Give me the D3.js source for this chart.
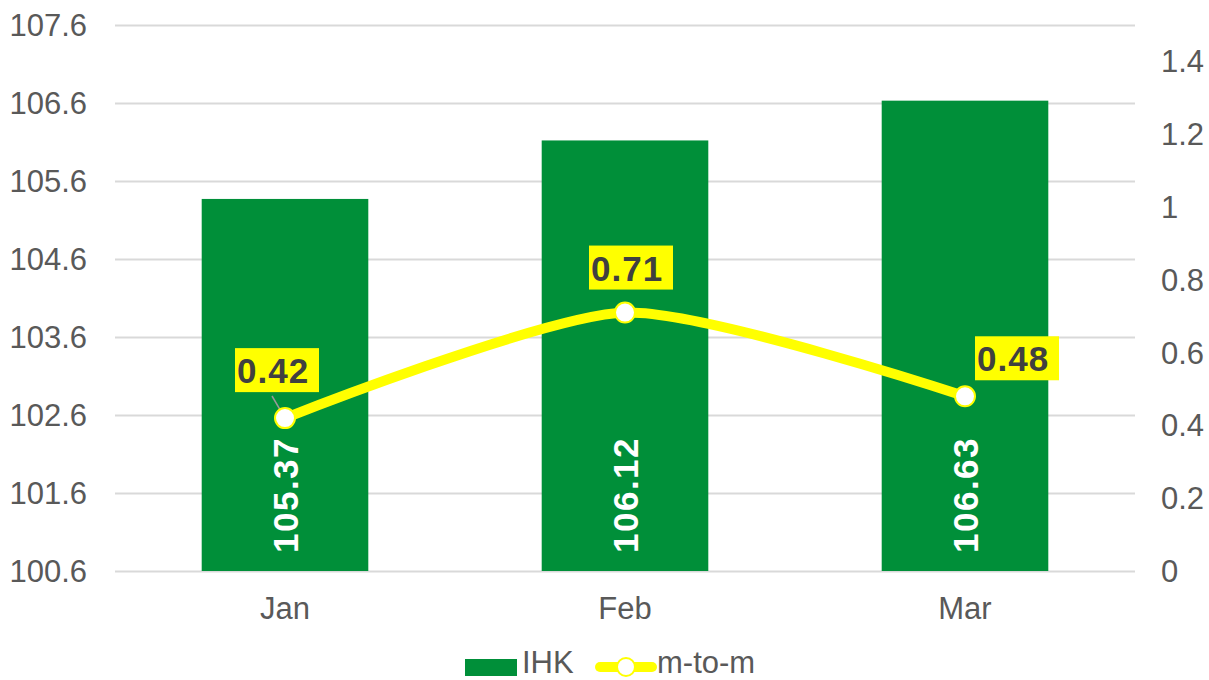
<!DOCTYPE html>
<html>
<head>
<script src="https://cdnjs.cloudflare.com/ajax/libs/d3/7.8.5/d3.min.js"></script>
<style>
  body { margin: 0; background: #fff; }
  text { font-family: "Liberation Sans", Arial, sans-serif; }
</style>
</head>
<body>
<div id="chart"></div>
<script>
// data
const months = ["Jan", "Feb", "Mar"];
const ihk = [105.37, 106.12, 106.63];
const mtom = [0.42, 0.71, 0.48];
const leftTicks = [100.6, 101.6, 102.6, 103.6, 104.6, 105.6, 106.6, 107.6];
const rightTicks = [0, 0.2, 0.4, 0.6, 0.8, 1, 1.2, 1.4];

const W = 1209, H = 680;
const plot = {left: 115, right: 1135, top: 25, bottom: 571};

const svg = d3.select("#chart").append("svg")
    .attr("width", W)
    .attr("height", H);

const x = d3.scaleBand().domain(months).range([plot.left, plot.right]).paddingInner(0.51).paddingOuter(0.255);
const yL = d3.scaleLinear().domain([100.6, 107.6]).range([plot.bottom, plot.top]);
const yR = d3.scaleLinear().domain([0, 1.5]).range([plot.bottom, plot.top]);

const green = "#008F39";
const yellow = "#FFFF00";
const axisGrey = "#595959";

// gridlines
svg.append("g").selectAll("line")
    .data(leftTicks)
    .join("line")
    .attr("x1", plot.left).attr("x2", plot.right)
    .attr("y1", d => Math.round(yL(d)) + 0.5).attr("y2", d => Math.round(yL(d)) + 0.5)
    .attr("stroke", "#d9d9d9").attr("stroke-width", 2);

// left axis labels
svg.append("g").selectAll("text")
    .data(leftTicks)
    .join("text")
    .attr("x", 87).attr("y", d => yL(d) + 11)
    .attr("text-anchor", "end")
    .attr("font-size", 31).attr("fill", axisGrey)
    .text(d => d.toFixed(1));

// right axis labels
svg.append("g").selectAll("text")
    .data(rightTicks)
    .join("text")
    .attr("x", 1161).attr("y", d => yR(d) + 11)
    .attr("text-anchor", "start")
    .attr("font-size", 31).attr("fill", axisGrey)
    .text(d => d3.format("~g")(d));

// category labels
svg.append("g").selectAll("text")
    .data(months)
    .join("text")
    .attr("x", d => x(d) + x.bandwidth() / 2).attr("y", 619)
    .attr("text-anchor", "middle")
    .attr("font-size", 31).attr("fill", axisGrey)
    .text(d => d);

// bars
svg.append("g").selectAll("rect")
    .data(months)
    .join("rect")
    .attr("x", d => x(d))
    .attr("width", x.bandwidth())
    .attr("y", (d, i) => yL(ihk[i]))
    .attr("height", (d, i) => yL(100.6) - yL(ihk[i]))
    .attr("fill", green);

// bar value labels (rotated)
svg.append("g").selectAll("text")
    .data(months)
    .join("text")
    .attr("transform", d => `translate(${x(d) + x.bandwidth() / 2 + 13},553) rotate(-90)`)
    .attr("text-anchor", "start")
    .attr("font-size", 35).attr("font-weight", "bold").attr("fill", "#fff")
    .attr("letter-spacing", 1.5)
    .text((d, i) => ihk[i].toFixed(2));

// line
const pts = months.map((m, i) => [x(m) + x.bandwidth() / 2, yR(mtom[i])]);
svg.append("path")
    .attr("d", d3.line().curve(d3.curveCardinal.tension(0.3))(pts))
    .attr("fill", "none")
    .attr("stroke", yellow)
    .attr("stroke-width", 10)
    .attr("stroke-linecap", "round");

// leader line for Jan label
svg.append("line")
    .attr("x1", 272).attr("y1", 396)
    .attr("x2", pts[0][0]).attr("y2", pts[0][1])
    .attr("stroke", "#999").attr("stroke-width", 1.5);

svg.append("g").selectAll("circle")
    .data(pts)
    .join("circle")
    .attr("cx", d => d[0]).attr("cy", d => d[1])
    .attr("r", 10)
    .attr("fill", "#fff")
    .attr("stroke", yellow).attr("stroke-width", 2);

// line value labels with yellow boxes
const boxes = [
  {dx: -50, dy: -70},
  {dx: -36, dy: -67},
  {dx: 10, dy: -60}
];
const lbl = svg.append("g").selectAll("g")
    .data(pts)
    .join("g")
    .attr("transform", (d, i) => `translate(${d[0] + boxes[i].dx},${d[1] + boxes[i].dy})`);
lbl.append("rect")
    .attr("width", 84).attr("height", 44)
    .attr("fill", yellow);
lbl.append("text")
    .attr("x", 2).attr("y", 35)
    .attr("text-anchor", "start")
    .attr("font-size", 35).attr("font-weight", "bold").attr("fill", "#404040")
    .attr("letter-spacing", 1)
    .text((d, i) => mtom[i].toFixed(2));

// legend
const leg = svg.append("g");
leg.append("rect").attr("x", 465).attr("y", 659).attr("width", 52).attr("height", 17).attr("fill", green);
leg.append("text").attr("x", 522).attr("y", 673).attr("font-size", 31).attr("fill", axisGrey).text("IHK");
leg.append("line").attr("x1", 600).attr("x2", 652).attr("y1", 667).attr("y2", 667)
    .attr("stroke", yellow).attr("stroke-width", 10).attr("stroke-linecap", "round");
leg.append("circle").attr("cx", 626).attr("cy", 667).attr("r", 9)
    .attr("fill", "#fff").attr("stroke", yellow).attr("stroke-width", 2);
leg.append("text").attr("x", 657).attr("y", 673).attr("font-size", 31).attr("fill", axisGrey).text("m-to-m");
</script>
</body>
</html>
